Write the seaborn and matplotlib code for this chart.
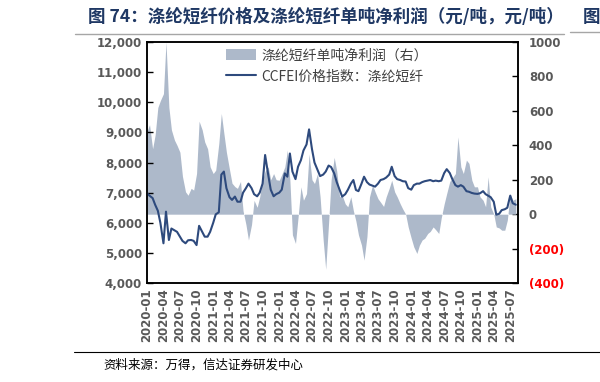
import numpy as np
import pandas as pd
import matplotlib
matplotlib.use("Agg")
import matplotlib.pyplot as plt
import matplotlib.dates as mdates
import seaborn as sns

# semi-monthly points, 2020-01-01 .. 2025-08-01
dates = pd.date_range("2020-01-01", "2025-08-01", freq="SMS")

# CCFEI price index: polyester staple fibre (yuan/t, left axis)
price = [6980, 6900, 6820, 6600, 6400, 6000, 5320, 6370, 5430, 5810,
         5750, 5700, 5540, 5400, 5320, 5420, 5430, 5400, 5260, 5900,
         5700, 5540, 5540, 5700, 6000, 6280, 6350, 7600, 7700, 7150,
         6850, 6760, 6870, 6700, 6700, 7000, 7150, 7300, 7150, 6950,
         6880, 7000, 7300, 8250, 7600, 7100, 6880, 6950, 7000, 7100,
         7640, 7530, 8300, 7700, 7450, 7860, 8080, 8400, 8600, 9100,
         8450, 8000, 7750, 7550, 7600, 7700, 7900, 7850, 7640, 7350,
         7090, 6870, 6950, 7090, 7300, 7420, 7090, 7050, 7300, 7530,
         7350, 7270, 7230, 7200, 7300, 7420, 7450, 7500, 7600, 7860,
         7550, 7450, 7420, 7380, 7370, 7150, 7100, 7250, 7300, 7300,
         7350, 7380, 7400, 7420, 7380, 7400, 7380, 7400, 7650, 7780,
         7650, 7450, 7250, 7200, 7250, 7200, 7050, 7030, 6990, 6970,
         6960, 6980, 7050, 6950, 6900, 6850, 6700, 6270, 6300, 6420,
         6450, 6500, 6900, 6650, 6600]

# net profit per tonne (yuan/t, right axis)
profit = [480, 520, 380, 460, 620, 660, 700, 1000, 620, 490,
          430, 400, 360, 220, 130, 110, 150, 140, 236, 540,
          490, 420, 380, 275, 236, 256, 410, 585, 470, 360,
          260, 180, 160, 150, 190, 20, -60, -150, -60, 80,
          40, 100, 200, 250, 275, 200, 236, 200, 197, 230,
          275, 372, 197, -120, -170, -20, 159, 81, 120, 350,
          200, 178, 236, 101, -150, -320, -50, 200, 330, 250,
          100, 110, 60, 43, 101, 20, -40, -120, -180, -267,
          -130, 100, 170, 130, 90, 70, 45, 100, 150, 197,
          130, 101, 60, 30, 0, -74, -140, -190, -228, -180,
          -150, -140, -112, -100, -74, -90, -112, -20, 60, 120,
          190, 210, 236, 449, 275, 236, 314, 295, 197, 159,
          159, 101, 81, 43, 217, 43, 0, -74, -80, -93,
          -93, -35, 120, 81, 90]

df = pd.DataFrame({"date": dates, "price": price, "profit": profit})

line_c = "#2E4A7D"
fill_c = "#ADB9CA"
tick_c = "#595959"
title_c = "#1F3864"
r_ticks = list(range(-400, 1001, 200))

sns.set_style("white")
plt.rcParams["font.family"] = ["Noto Sans CJK SC", "DejaVu Sans"]

fig = plt.figure(figsize=(6, 3.82), dpi=100)
ax = fig.add_axes([0.245, 0.259, 0.618, 0.631])
ax2 = ax.twinx()

# profit area on right axis
ax2.fill_between(df["date"], df["profit"], 0, color=fill_c, linewidth=0,
                 label="涤纶短纤单吨净利润（右）")
ax2.set_ylim(-400, 1000)
ax2.set_yticks(r_ticks)
ax2.set_yticklabels([f"({-v})" if v < 0 else f"{v}" for v in r_ticks])

# price line on left axis, drawn above the area
ax.set_zorder(ax2.get_zorder() + 1)
ax.patch.set_visible(False)
sns.lineplot(data=df, x="date", y="price", ax=ax, color=line_c, linewidth=1.5,
             label="CCFEI价格指数：涤纶短纤", legend=False)
ax.set_ylim(4000, 12000)
ax.set_yticks(range(4000, 12001, 1000))
ax.set_yticklabels([f"{v:,}" for v in range(4000, 12001, 1000)])
ax.set_xlim(pd.Timestamp("2020-01-01"), pd.Timestamp("2025-08-12"))
ax.xaxis.set_major_locator(mdates.MonthLocator(bymonth=[1, 4, 7, 10]))
ax.xaxis.set_major_formatter(mdates.DateFormatter("%Y-%m"))
ax.set_xlabel("")
ax.set_ylabel("")

for a in (ax, ax2):
    for s in a.spines.values():
        s.set_color("black")
        s.set_linewidth(1.1)
    a.tick_params(direction="in", length=4, width=1, colors="black")
    for lab in a.get_yticklabels() + a.get_xticklabels():
        lab.set_fontfamily("DejaVu Sans")
        lab.set_fontweight("bold")
        lab.set_fontsize(8.5)
ax.tick_params(axis="x", rotation=90, pad=4)
for lab in ax.get_xticklabels() + ax.get_yticklabels():
    lab.set_color(tick_c)
ax2.tick_params(axis="y", pad=8)
for lab, v in zip(ax2.get_yticklabels(), r_ticks):
    lab.set_color("#FF0000" if v < 0 else tick_c)

# legend
h1, l1 = ax2.get_legend_handles_labels()
h2, l2 = ax.get_legend_handles_labels()
leg = ax.legend(h1 + h2, l1 + l2, loc="upper left", bbox_to_anchor=(0.178, 1.025),
                frameon=False, fontsize=10, handlelength=2.2, handleheight=0.9,
                handletextpad=0.4, labelspacing=0.5)
for t in leg.get_texts():
    t.set_color("#404040")

# title and source
fig.text(0.147, 0.956, "图 74：涤纶短纤价格及涤纶短纤单吨净利润（元/吨，元/吨）",
         fontsize=12.6, fontweight="bold", color=title_c, va="center")
fig.text(0.972, 0.956, "图", fontsize=12.6, fontweight="bold", color=title_c, va="center")
fig.add_artist(plt.Line2D([0.125, 0.94], [0.91, 0.91], color="#A6A6A6", lw=1))
fig.add_artist(plt.Line2D([0.95, 1.0], [0.915, 0.915], color="#A6A6A6", lw=1))
fig.add_artist(plt.Line2D([0.123, 1.0], [0.079, 0.079], color="black", lw=0.8))
fig.text(0.172, 0.045, "资料来源：万得，信达证券研发中心", fontsize=9,
         style="italic", color="black", va="center")

fig.savefig("out.png", dpi=100)
